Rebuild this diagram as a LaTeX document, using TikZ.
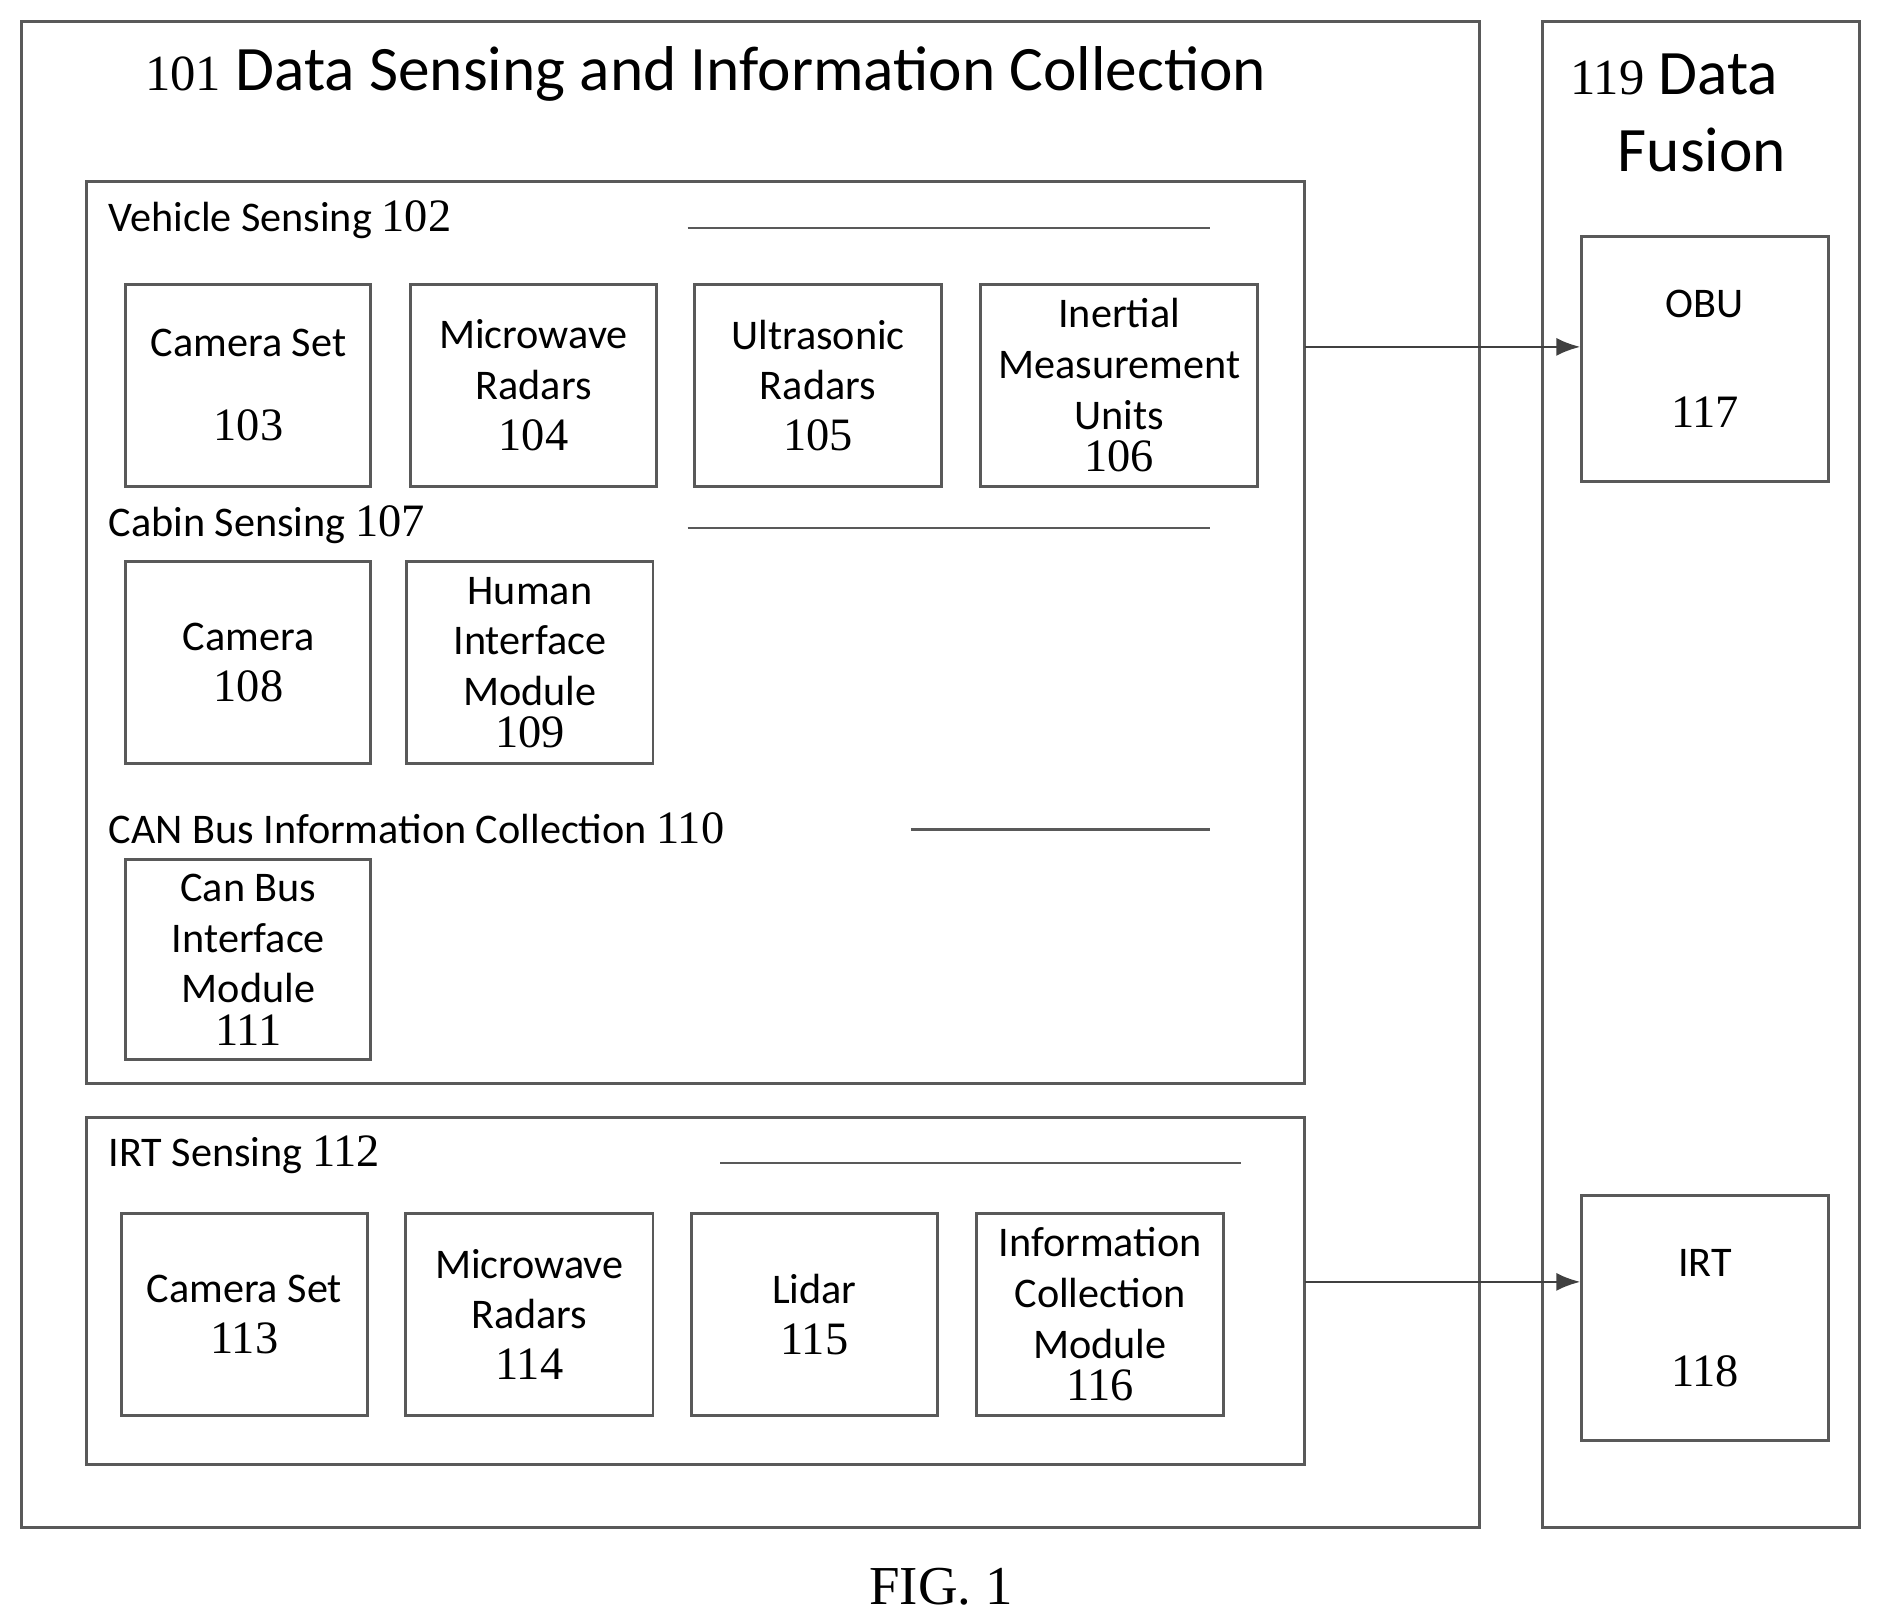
\documentclass[tikz,border=0pt]{standalone}
\usepackage{fontspec}
\setmainfont{Carlito}
\newfontfamily\numfont{Liberation Serif}
\newfontfamily\figfont{Liberation Serif}
\usetikzlibrary{arrows.meta}
\begin{document}
\begin{tikzpicture}[>=Latex, x=0.01cm, y=-0.01cm]

\tikzset{
  frame/.style={draw=black!65, line width=0.7pt},
  unit/.style={frame, minimum width=2.04cm, minimum height=1.68cm, align=center, font=\fontsize{10}{12}\selectfont, inner sep=1pt},
  head/.style={anchor=west, font=\fontsize{10}{12}\selectfont},
  rule/.style={draw=black!65, line width=0.6pt},
  arrow/.style={->, draw=black!75, line width=0.6pt}
}
\newcommand{\nb}[1]{{\numfont\fontsize{11}{12}\selectfont #1}}

\useasboundingbox (0,0) rectangle (1568,1351);

% --- outer frames ---
\draw[frame] (18,18) rectangle (1233,1273);
\draw[frame] (1285,18) rectangle (1549,1273);
\node[font=\fontsize{15}{18}\selectfont] (t101) at (588,62) {{\numfont\fontsize{12}{14}\selectfont 101} Data Sensing and Information Collection};
\node[font=\fontsize{15}{18}\selectfont, anchor=west] (t119) at (1296,62) {{\numfont\fontsize{12}{14}\selectfont 119} Data};
\node[font=\fontsize{15}{18}\selectfont] (t119b) at (1418,125) {Fusion};

% --- vehicle sensing ---
\draw[frame] (72,151) rectangle (1087,903);
\node[head] (l102) at (78,183) {Vehicle Sensing \nb{102}};
\draw[rule] (573,190) -- (1008,190);
\node[unit, minimum width=2.04cm] (b103) at (207,321) {Camera Set\\[8pt]\nb{103}};
\node[unit, minimum width=2.05cm] (b104) at (444.5,321) {Microwave\\Radars\\\nb{104}};
\node[unit, minimum width=2.05cm] (b105) at (681.5,321) {Ultrasonic\\Radars\\\nb{105}};
\node[unit, minimum width=2.31cm] (b106) at (932.5,321) {Inertial\\Measurement\\Units\\[-2pt]\nb{106}};

% --- cabin sensing ---
\node[head] (l107) at (78,437) {Cabin Sensing \nb{107}};
\draw[rule] (573,440) -- (1008,440);
\node[unit] (b108) at (207,552) {Camera\\\nb{108}};
\node[unit, minimum width=2.05cm] (b109) at (441.5,552) {Human\\Interface\\Module\\[-2pt]\nb{109}};

% --- CAN bus ---
\node[head] (l110) at (78,690) {CAN Bus Information Collection \nb{110}};
\draw[rule] (759,691) -- (1008,691);
\node[unit, minimum height=1.67cm] (b111) at (207,799.5) {Can Bus\\Interface\\Module\\[-2pt]\nb{111}};

% --- IRT sensing ---
\draw[frame] (72,931) rectangle (1087,1220);
\node[head] (l112) at (78,962) {IRT Sensing \nb{112}};
\draw[rule] (600,969) -- (1034,969);
\node[unit, minimum width=2.05cm] (b113) at (203.5,1095) {Camera Set\\\nb{113}};
\node[unit, minimum width=2.06cm] (b114) at (441,1095) {Microwave\\Radars\\\nb{114}};
\node[unit, minimum width=2.05cm] (b115) at (678.5,1095) {Lidar\\\nb{115}};
\node[unit, minimum width=2.05cm] (b116) at (916.5,1095) {Information\\Collection\\Module\\[-2pt]\nb{116}};

% --- data fusion ---
\node[unit, minimum width=2.05cm, minimum height=2.04cm] (obu) at (1420.5,299) {OBU\\[14pt]\nb{117}};
\node[unit, minimum width=2.05cm, minimum height=2.04cm] (irt) at (1420.5,1098) {IRT\\[14pt]\nb{118}};
\coordinate (v) at (1087,289);
\coordinate (i) at (1087,1068);
\draw[arrow] (v) -- (v -| obu.west);
\draw[arrow] (i) -- (i -| irt.west);

\node[font=\figfont\fontsize{13}{16}\selectfont] (fig) at (784,1322) {FIG. 1};

\end{tikzpicture}
\end{document}
